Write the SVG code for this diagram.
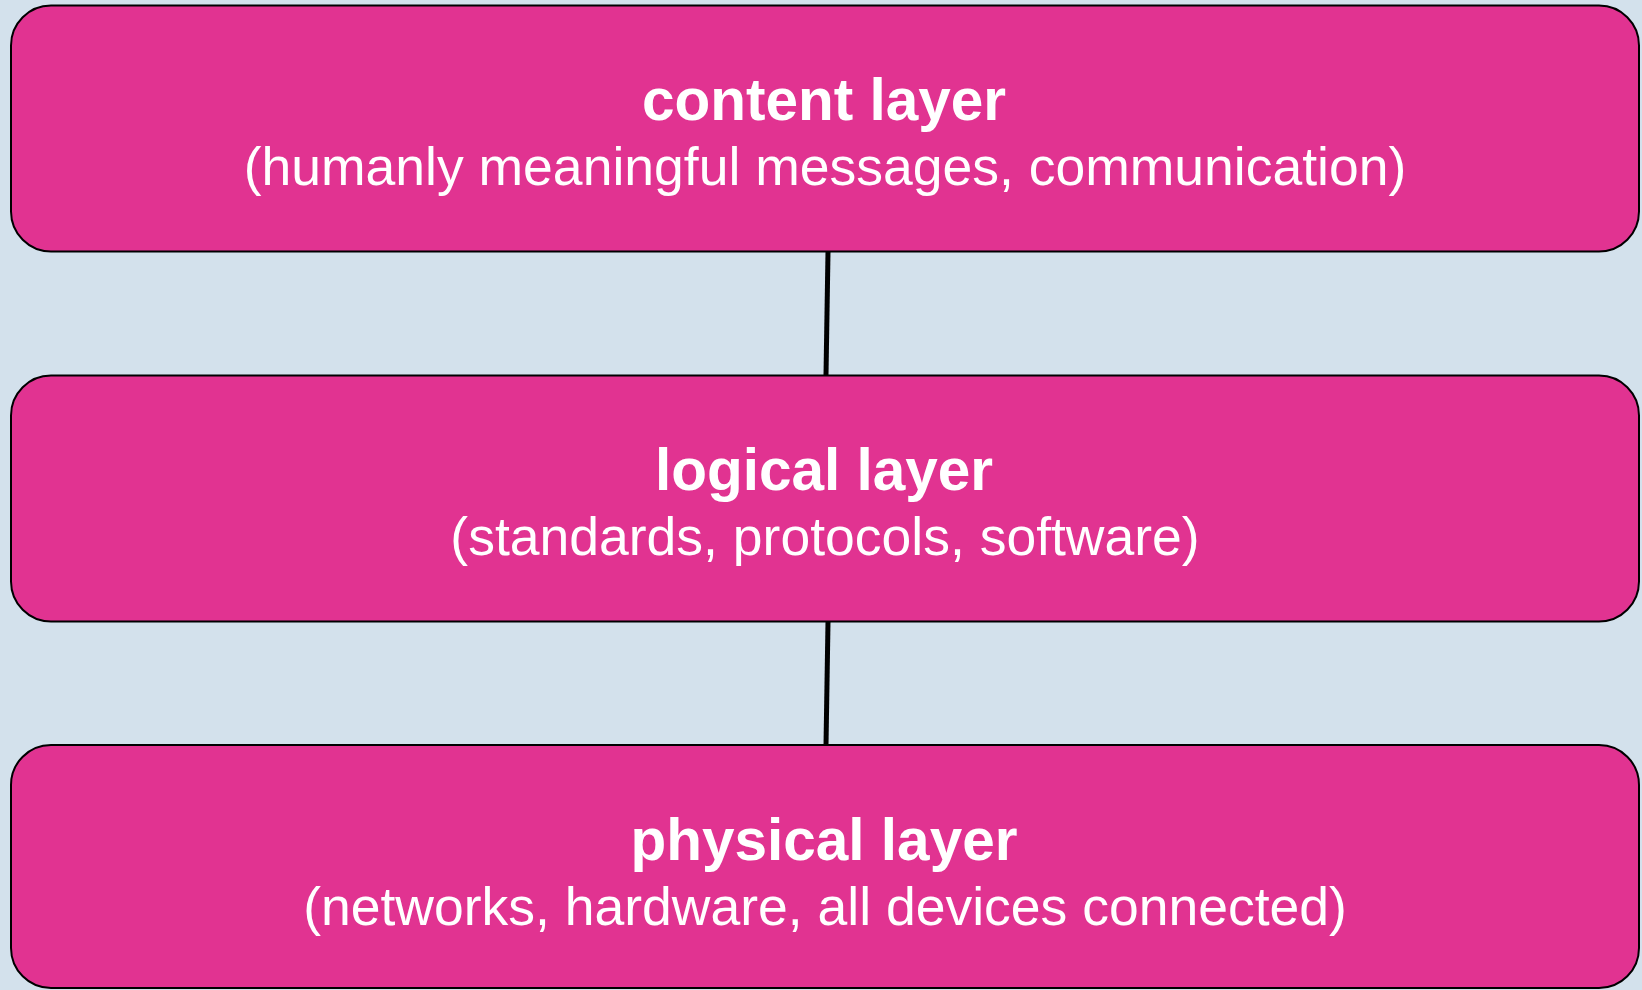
<svg xmlns="http://www.w3.org/2000/svg" width="1642" height="990" viewBox="0 0 1642 990">
<style>
.box{fill:#E13391;stroke:#000;stroke-width:2}
.t{font-family:"Liberation Sans",Arial,sans-serif;fill:#fff;text-anchor:middle}
.h{font-weight:bold;font-size:58.5px}
.s{font-size:53.5px}
.c{stroke:#000;stroke-width:5;fill:none}
</style>
<rect width="1642" height="990" fill="#D3E1EC"/>
<g id="connectors">
<line class="c" x1="828" y1="252" x2="826" y2="375"/>
<line class="c" x1="828" y1="622" x2="826" y2="745"/>
</g>
<g id="content">
<rect class="box" x="11" y="5.5" width="1628" height="246" rx="40"/>
<text class="t h" x="824" y="120">content layer</text>
<text class="t s" x="825" y="185">(humanly meaningful messages, communication)</text>
</g>
<g id="logical">
<rect class="box" x="11" y="375.5" width="1628" height="246" rx="40"/>
<text class="t h" x="824" y="490">logical layer</text>
<text class="t s" x="825" y="555">(standards, protocols, software)</text>
</g>
<g id="physical">
<rect class="box" x="11" y="745" width="1628" height="243" rx="40"/>
<text class="t h" x="824" y="860">physical layer</text>
<text class="t s" x="825" y="925">(networks, hardware, all devices connected)</text>
</g>
</svg>
